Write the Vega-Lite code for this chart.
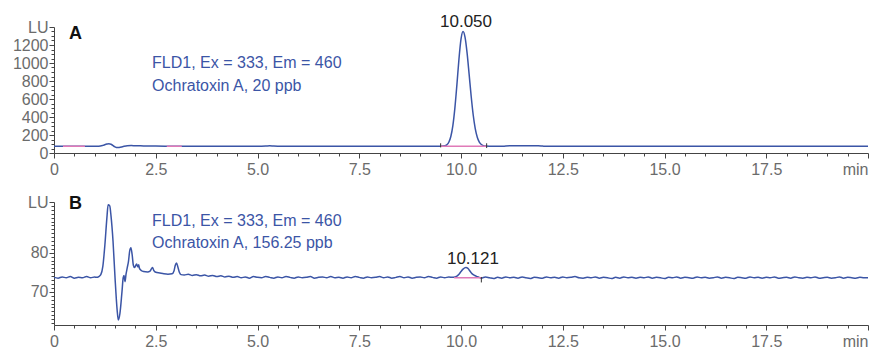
{
  "$schema": "https://vega.github.io/schema/vega-lite/v6.json",
  "padding": {"left": 12, "top": 12, "right": 0, "bottom": 0},
  "spacing": 17,
  "config": {
    "view": {"stroke": null},
    "axis": {
      "grid": false,
      "title": null,
      "domainColor": "#444444",
      "tickColor": "#444444",
      "domainWidth": 1,
      "tickWidth": 1,
      "labelColor": "#6b6b6b",
      "labelFont": "Liberation Sans",
      "labelFontSize": 16,
      "labelFlush": false,
      "labelOverlap": false,
      "labelBound": false
    }
  },
  "datasets": {
    "traceA": [
      {"t": 0, "v": 75}, {"t": 0.2, "v": 75}, {"t": 0.5, "v": 74}, {"t": 0.8, "v": 75}, {"t": 1.0, "v": 75},
      {"t": 1.1, "v": 76}, {"t": 1.2, "v": 85}, {"t": 1.3, "v": 100}, {"t": 1.35, "v": 104}, {"t": 1.4, "v": 98},
      {"t": 1.5, "v": 68}, {"t": 1.55, "v": 60}, {"t": 1.6, "v": 62}, {"t": 1.7, "v": 72}, {"t": 1.8, "v": 80},
      {"t": 1.9, "v": 82}, {"t": 2.0, "v": 80}, {"t": 2.2, "v": 79}, {"t": 2.5, "v": 77}, {"t": 3.0, "v": 76},
      {"t": 4.0, "v": 75}, {"t": 5.0, "v": 75}, {"t": 5.2, "v": 77}, {"t": 5.3, "v": 80}, {"t": 5.4, "v": 77},
      {"t": 5.6, "v": 75}, {"t": 6.0, "v": 75}, {"t": 7.0, "v": 75}, {"t": 8.0, "v": 75}, {"t": 9.0, "v": 75},
      {"t": 9.5, "v": 75}, {"t": 9.6, "v": 80}, {"t": 9.65, "v": 91}, {"t": 9.7, "v": 119}, {"t": 9.75, "v": 183},
      {"t": 9.8, "v": 304}, {"t": 9.85, "v": 501}, {"t": 9.9, "v": 763}, {"t": 9.95, "v": 1044}, {"t": 10.0, "v": 1265},
      {"t": 10.05, "v": 1350}, {"t": 10.1, "v": 1285}, {"t": 10.15, "v": 1110}, {"t": 10.2, "v": 873}, {"t": 10.25, "v": 630},
      {"t": 10.3, "v": 422}, {"t": 10.35, "v": 271}, {"t": 10.4, "v": 175}, {"t": 10.45, "v": 121}, {"t": 10.5, "v": 94},
      {"t": 10.55, "v": 82}, {"t": 10.6, "v": 77}, {"t": 10.7, "v": 75}, {"t": 11.0, "v": 74}, {"t": 11.1, "v": 78},
      {"t": 11.2, "v": 80}, {"t": 11.5, "v": 80}, {"t": 11.9, "v": 80}, {"t": 12.0, "v": 77}, {"t": 12.1, "v": 74},
      {"t": 13, "v": 74}, {"t": 14, "v": 74}, {"t": 15, "v": 74}, {"t": 16, "v": 74}, {"t": 17, "v": 74},
      {"t": 18, "v": 74}, {"t": 19, "v": 74}, {"t": 20, "v": 74}
    ],
    "traceB": [
      {"t": 0.0, "v": 73.7}, {"t": 0.1, "v": 73.5}, {"t": 0.2, "v": 73.8}, {"t": 0.3, "v": 73.6}, {"t": 0.4, "v": 73.9},
      {"t": 0.5, "v": 73.5}, {"t": 0.6, "v": 73.7}, {"t": 0.7, "v": 73.6}, {"t": 0.8, "v": 73.9}, {"t": 0.9, "v": 73.6},
      {"t": 1.0, "v": 73.8}, {"t": 1.05, "v": 73.7}, {"t": 1.1, "v": 73.9}, {"t": 1.15, "v": 74.4}, {"t": 1.2, "v": 76.5},
      {"t": 1.25, "v": 82}, {"t": 1.3, "v": 89}, {"t": 1.33, "v": 92.3}, {"t": 1.37, "v": 92.0}, {"t": 1.4, "v": 89.5},
      {"t": 1.45, "v": 83}, {"t": 1.5, "v": 73.5}, {"t": 1.55, "v": 65.5}, {"t": 1.58, "v": 62.8}, {"t": 1.62, "v": 64.5},
      {"t": 1.67, "v": 70}, {"t": 1.7, "v": 73.6}, {"t": 1.72, "v": 74.2}, {"t": 1.745, "v": 72.6}, {"t": 1.77, "v": 74.5},
      {"t": 1.8, "v": 76.2}, {"t": 1.83, "v": 77.8}, {"t": 1.86, "v": 80.5}, {"t": 1.89, "v": 81.3}, {"t": 1.92, "v": 79.5},
      {"t": 1.95, "v": 76.8}, {"t": 1.98, "v": 76.2}, {"t": 2.0, "v": 76.6}, {"t": 2.03, "v": 77.1}, {"t": 2.06, "v": 76.4},
      {"t": 2.08, "v": 76.9}, {"t": 2.1, "v": 76.0}, {"t": 2.15, "v": 75.4}, {"t": 2.2, "v": 75.2}, {"t": 2.3, "v": 75.1},
      {"t": 2.36, "v": 75.3}, {"t": 2.4, "v": 76.0}, {"t": 2.42, "v": 76.2}, {"t": 2.45, "v": 75.5}, {"t": 2.5, "v": 75.0},
      {"t": 2.6, "v": 74.8}, {"t": 2.7, "v": 74.6}, {"t": 2.8, "v": 74.5}, {"t": 2.9, "v": 74.6}, {"t": 2.95, "v": 75.4},
      {"t": 2.98, "v": 76.8}, {"t": 3.01, "v": 77.4}, {"t": 3.04, "v": 76.5}, {"t": 3.08, "v": 75.0}, {"t": 3.12, "v": 74.4},
      {"t": 3.2, "v": 74.3}, {"t": 3.3, "v": 74.5}, {"t": 3.4, "v": 74.2}, {"t": 3.5, "v": 74.4}, {"t": 3.6, "v": 74.1},
      {"t": 3.7, "v": 74.3}, {"t": 3.8, "v": 74.0}, {"t": 3.9, "v": 74.2}, {"t": 4.0, "v": 73.9}, {"t": 4.1, "v": 74.1},
      {"t": 4.2, "v": 73.8}, {"t": 4.3, "v": 74.0}, {"t": 4.4, "v": 73.7}, {"t": 4.5, "v": 73.9}, {"t": 4.6, "v": 73.6},
      {"t": 4.7, "v": 73.8}, {"t": 4.8, "v": 73.5}, {"t": 4.9, "v": 73.9}, {"t": 5.0, "v": 73.7}, {"t": 5.1, "v": 73.6},
      {"t": 5.2, "v": 73.9}, {"t": 5.3, "v": 73.7}, {"t": 5.4, "v": 73.5}, {"t": 5.5, "v": 73.8}, {"t": 5.6, "v": 73.6},
      {"t": 5.7, "v": 73.9}, {"t": 5.8, "v": 73.7}, {"t": 5.9, "v": 73.5}, {"t": 6.0, "v": 73.8}, {"t": 6.1, "v": 73.6},
      {"t": 6.2, "v": 73.7}, {"t": 6.3, "v": 73.9}, {"t": 6.4, "v": 73.5}, {"t": 6.5, "v": 73.7}, {"t": 6.6, "v": 73.8},
      {"t": 6.7, "v": 73.6}, {"t": 6.8, "v": 73.9}, {"t": 6.9, "v": 73.6}, {"t": 7.0, "v": 73.7}, {"t": 7.1, "v": 73.5},
      {"t": 7.2, "v": 73.8}, {"t": 7.3, "v": 73.6}, {"t": 7.4, "v": 73.9}, {"t": 7.5, "v": 73.7}, {"t": 7.6, "v": 73.5},
      {"t": 7.7, "v": 73.8}, {"t": 7.8, "v": 73.6}, {"t": 7.9, "v": 73.7}, {"t": 8.0, "v": 73.9}, {"t": 8.1, "v": 73.6},
      {"t": 8.2, "v": 73.8}, {"t": 8.3, "v": 73.5}, {"t": 8.4, "v": 73.7}, {"t": 8.5, "v": 73.9}, {"t": 8.6, "v": 73.6},
      {"t": 8.7, "v": 73.8}, {"t": 8.8, "v": 73.5}, {"t": 8.9, "v": 73.7}, {"t": 9.0, "v": 73.8}, {"t": 9.1, "v": 73.6},
      {"t": 9.2, "v": 73.9}, {"t": 9.3, "v": 73.7}, {"t": 9.4, "v": 73.5}, {"t": 9.5, "v": 73.8}, {"t": 9.6, "v": 73.6},
      {"t": 9.7, "v": 73.8}, {"t": 9.8, "v": 73.7}, {"t": 9.85, "v": 73.8}, {"t": 9.9, "v": 74.0}, {"t": 9.95, "v": 74.5},
      {"t": 10.0, "v": 75.2}, {"t": 10.05, "v": 75.8}, {"t": 10.121, "v": 76.2}, {"t": 10.17, "v": 76.0}, {"t": 10.2, "v": 75.6},
      {"t": 10.25, "v": 74.9}, {"t": 10.3, "v": 74.4}, {"t": 10.35, "v": 74.1}, {"t": 10.4, "v": 73.9}, {"t": 10.45, "v": 73.7},
      {"t": 10.5, "v": 73.5}, {"t": 10.6, "v": 73.8}, {"t": 10.7, "v": 73.6}, {"t": 10.8, "v": 73.4}, {"t": 10.9, "v": 73.7},
      {"t": 11.0, "v": 73.5}, {"t": 11.1, "v": 73.8}, {"t": 11.2, "v": 73.6}, {"t": 11.3, "v": 73.7}, {"t": 11.4, "v": 73.5},
      {"t": 11.5, "v": 73.8}, {"t": 11.6, "v": 73.6}, {"t": 11.7, "v": 73.4}, {"t": 11.8, "v": 73.7}, {"t": 11.9, "v": 73.6},
      {"t": 12.0, "v": 73.5}, {"t": 12.1, "v": 73.8}, {"t": 12.2, "v": 73.6}, {"t": 12.3, "v": 73.7}, {"t": 12.4, "v": 73.5},
      {"t": 12.5, "v": 73.8}, {"t": 12.6, "v": 73.6}, {"t": 12.7, "v": 73.7}, {"t": 12.8, "v": 73.9}, {"t": 12.9, "v": 73.6},
      {"t": 13.0, "v": 73.5}, {"t": 13.1, "v": 73.7}, {"t": 13.2, "v": 73.6}, {"t": 13.3, "v": 73.8}, {"t": 13.4, "v": 73.5},
      {"t": 13.5, "v": 73.7}, {"t": 13.6, "v": 73.6}, {"t": 13.7, "v": 73.4}, {"t": 13.8, "v": 73.7}, {"t": 13.9, "v": 73.5},
      {"t": 14.0, "v": 73.8}, {"t": 14.1, "v": 73.6}, {"t": 14.2, "v": 73.7}, {"t": 14.3, "v": 73.5}, {"t": 14.4, "v": 73.7},
      {"t": 14.5, "v": 73.6}, {"t": 14.6, "v": 73.8}, {"t": 14.7, "v": 73.5}, {"t": 14.8, "v": 73.7}, {"t": 14.9, "v": 73.6},
      {"t": 15.0, "v": 73.4}, {"t": 15.1, "v": 73.7}, {"t": 15.2, "v": 73.6}, {"t": 15.3, "v": 73.8}, {"t": 15.4, "v": 73.5},
      {"t": 15.5, "v": 73.7}, {"t": 15.6, "v": 73.6}, {"t": 15.7, "v": 73.5}, {"t": 15.8, "v": 73.8}, {"t": 15.9, "v": 73.6},
      {"t": 16.0, "v": 73.7}, {"t": 16.1, "v": 73.5}, {"t": 16.2, "v": 73.6}, {"t": 16.3, "v": 73.8}, {"t": 16.4, "v": 73.5},
      {"t": 16.5, "v": 73.7}, {"t": 16.6, "v": 73.6}, {"t": 16.7, "v": 73.4}, {"t": 16.8, "v": 73.7}, {"t": 16.9, "v": 73.6},
      {"t": 17.0, "v": 73.5}, {"t": 17.1, "v": 73.8}, {"t": 17.2, "v": 73.6}, {"t": 17.3, "v": 73.7}, {"t": 17.4, "v": 73.5},
      {"t": 17.5, "v": 73.7}, {"t": 17.6, "v": 73.6}, {"t": 17.7, "v": 73.8}, {"t": 17.8, "v": 73.5}, {"t": 17.9, "v": 73.6},
      {"t": 18.0, "v": 73.7}, {"t": 18.1, "v": 73.5}, {"t": 18.2, "v": 73.8}, {"t": 18.3, "v": 73.6}, {"t": 18.4, "v": 73.5},
      {"t": 18.5, "v": 73.7}, {"t": 18.6, "v": 73.6}, {"t": 18.7, "v": 73.8}, {"t": 18.8, "v": 73.5}, {"t": 18.9, "v": 73.6},
      {"t": 19.0, "v": 73.7}, {"t": 19.1, "v": 73.5}, {"t": 19.2, "v": 73.6}, {"t": 19.3, "v": 73.8}, {"t": 19.4, "v": 73.5},
      {"t": 19.5, "v": 73.7}, {"t": 19.6, "v": 73.6}, {"t": 19.7, "v": 73.5}, {"t": 19.8, "v": 73.7}, {"t": 19.9, "v": 73.6},
      {"t": 20.0, "v": 73.6}
    ],
    "baseA": [
      {"t0": 0.22, "t1": 0.76, "v": 75},
      {"t0": 2.77, "t1": 3.14, "v": 75},
      {"t0": 9.5, "t1": 10.63, "v": 75}
    ],
    "baseB": [
      {"t0": 9.83, "t1": 10.5, "v": 73.6}
    ],
    "dropA": [
      {"t": 9.5, "v0": 62, "v1": 108},
      {"t": 10.63, "v0": 55, "v1": 108}
    ],
    "dropB": [
      {"t": 10.5, "v0": 72.4, "v1": 73.8}
    ],
    "letterA": [{"t": 0.37, "v": 1322, "label": "A"}],
    "letterB": [{"t": 0.37, "v": 92.4, "label": "B"}],
    "notesA": [
      {"t": 2.41, "v": 1005, "label": "FLD1, Ex = 333, Em = 460"},
      {"t": 2.41, "v": 750, "label": "Ochratoxin A, 20 ppb"}
    ],
    "notesB": [
      {"t": 2.41, "v": 88.1, "label": "FLD1, Ex = 333, Em = 460"},
      {"t": 2.41, "v": 82.4, "label": "Ochratoxin A, 156.25 ppb"}
    ],
    "peakA": [{"t": 10.05, "v": 1350, "label": "10.050"}],
    "peakB": [{"t": 10.121, "v": 76.2, "label": "10.121"}]
  },
  "vconcat": [
    {
      "width": 814,
      "height": 126,
      "resolve": {"axis": {"x": "independent", "y": "independent"}},
      "layer": [
        {
          "data": {"name": "traceA"},
          "mark": {"type": "line", "color": "#3b55a6", "strokeWidth": 1.5, "interpolate": "monotone"},
          "encoding": {
            "x": {
              "field": "t", "type": "quantitative",
              "scale": {"domain": [0, 20], "nice": false, "zero": false},
              "axis": {
                "orient": "bottom",
                "values": [0, 2.5, 5, 7.5, 10, 12.5, 15, 17.5, 20],
                "labelExpr": "datum.value == 20 ? 'min' : (datum.value == 0 ? '0' : format(datum.value, '.1f'))",
                "labelAlign": {"condition": {"test": "datum.value == 20", "value": "right"}, "value": "center"},
                "tickSize": 5,
                "labelOverlap": false,
                "labelPadding": 3
              }
            },
            "y": {
              "field": "v", "type": "quantitative",
              "scale": {"domain": [0, 1400], "nice": false},
              "axis": {
                "orient": "left",
                "values": [0, 200, 400, 600, 800, 1000, 1200, 1400],
                "format": "d",
                "labelExpr": "datum.value == 1400 ? 'LU' : datum.label",
                "tickSize": 5,
                "labelOverlap": false,
                "labelPadding": 1,
                "minExtent": 42,
                "maxExtent": 42
              }
            }
          }
        },
        {
          "data": {"name": "baseA"},
          "mark": {"type": "rule", "color": "#e07ab8", "strokeWidth": 1.5},
          "encoding": {
            "x": {
              "field": "t0", "type": "quantitative",
              "axis": {
                "orient": "bottom",
                "values": [0.5, 1, 1.5, 2, 3, 3.5, 4, 4.5, 5.5, 6, 6.5, 7, 8, 8.5, 9, 9.5, 10.5, 11, 11.5, 12, 13, 13.5, 14, 14.5, 15.5, 16, 16.5, 17, 18, 18.5, 19, 19.5],
                "labels": false,
                "domain": false,
                "tickSize": 3
              }
            },
            "x2": {"field": "t1"},
            "y": {
              "field": "v", "type": "quantitative",
              "axis": {
                "orient": "left",
                "values": [50, 100, 150, 250, 300, 350, 450, 500, 550, 650, 700, 750, 850, 900, 950, 1050, 1100, 1150, 1250, 1300, 1350],
                "labels": false,
                "domain": false,
                "tickSize": 3,
                "minExtent": 42,
                "maxExtent": 42
              }
            }
          }
        },
        {
          "data": {"name": "dropA"},
          "mark": {"type": "rule", "color": "#333333", "strokeWidth": 1},
          "encoding": {
            "x": {"field": "t", "type": "quantitative", "axis": null},
            "y": {"field": "v0", "type": "quantitative", "axis": null},
            "y2": {"field": "v1"}
          }
        },
        {
          "data": {"name": "letterA"},
          "mark": {"type": "text", "font": "Liberation Sans", "fontSize": 18, "fontWeight": "bold", "color": "#111111", "align": "left", "baseline": "middle"},
          "encoding": {
            "x": {"field": "t", "type": "quantitative", "axis": null},
            "y": {"field": "v", "type": "quantitative", "axis": null},
            "text": {"field": "label"}
          }
        },
        {
          "data": {"name": "notesA"},
          "mark": {"type": "text", "font": "Liberation Sans", "fontSize": 16, "color": "#3b55a6", "align": "left", "baseline": "middle"},
          "encoding": {
            "x": {"field": "t", "type": "quantitative", "axis": null},
            "y": {"field": "v", "type": "quantitative", "axis": null},
            "text": {"field": "label"}
          }
        },
        {
          "data": {"name": "peakA"},
          "mark": {"type": "text", "font": "Liberation Sans", "fontSize": 17, "color": "#222222", "align": "center", "baseline": "alphabetic", "dx": 3, "dy": -5},
          "encoding": {
            "x": {"field": "t", "type": "quantitative", "axis": null},
            "y": {"field": "v", "type": "quantitative", "axis": null},
            "text": {"field": "label"}
          }
        }
      ]
    },
    {
      "width": 814,
      "height": 123,
      "resolve": {"axis": {"x": "independent", "y": "independent"}},
      "layer": [
        {
          "data": {"name": "traceB"},
          "mark": {"type": "line", "color": "#3b55a6", "strokeWidth": 1.5, "interpolate": "monotone"},
          "encoding": {
            "x": {
              "field": "t", "type": "quantitative",
              "scale": {"domain": [0, 20], "nice": false, "zero": false},
              "axis": {
                "orient": "bottom",
                "values": [0, 2.5, 5, 7.5, 10, 12.5, 15, 17.5, 20],
                "labelExpr": "datum.value == 20 ? 'min' : (datum.value == 0 ? '0' : format(datum.value, '.1f'))",
                "labelAlign": {"condition": {"test": "datum.value == 20", "value": "right"}, "value": "center"},
                "tickSize": 5,
                "labelOverlap": false,
                "labelPadding": 3
              }
            },
            "y": {
              "field": "v", "type": "quantitative",
              "scale": {"domain": [61.5, 93], "nice": false, "zero": false},
              "axis": {
                "orient": "left",
                "values": [70, 80, 93],
                "format": "d",
                "labelExpr": "datum.value == 93 ? 'LU' : datum.label",
                "tickSize": 5,
                "labelOverlap": false,
                "labelPadding": 1,
                "minExtent": 42,
                "maxExtent": 42
              }
            }
          }
        },
        {
          "data": {"name": "baseB"},
          "mark": {"type": "rule", "color": "#e07ab8", "strokeWidth": 1.5},
          "encoding": {
            "x": {
              "field": "t0", "type": "quantitative",
              "axis": {
                "orient": "bottom",
                "values": [0.5, 1, 1.5, 2, 3, 3.5, 4, 4.5, 5.5, 6, 6.5, 7, 8, 8.5, 9, 9.5, 10.5, 11, 11.5, 12, 13, 13.5, 14, 14.5, 15.5, 16, 16.5, 17, 18, 18.5, 19, 19.5],
                "labels": false,
                "domain": false,
                "tickSize": 3
              }
            },
            "x2": {"field": "t1"},
            "y": {
              "field": "v", "type": "quantitative",
              "axis": {
                "orient": "left",
                "values": [62, 63, 64, 65, 66, 67, 68, 69, 71, 72, 73, 74, 75, 76, 77, 78, 79, 81, 82, 83, 84, 85, 86, 87, 88, 89, 90, 91, 92],
                "labels": false,
                "domain": false,
                "tickSize": 3,
                "minExtent": 42,
                "maxExtent": 42
              }
            }
          }
        },
        {
          "data": {"name": "dropB"},
          "mark": {"type": "rule", "color": "#333333", "strokeWidth": 1},
          "encoding": {
            "x": {"field": "t", "type": "quantitative", "axis": null},
            "y": {"field": "v0", "type": "quantitative", "axis": null},
            "y2": {"field": "v1"}
          }
        },
        {
          "data": {"name": "letterB"},
          "mark": {"type": "text", "font": "Liberation Sans", "fontSize": 18, "fontWeight": "bold", "color": "#111111", "align": "left", "baseline": "middle"},
          "encoding": {
            "x": {"field": "t", "type": "quantitative", "axis": null},
            "y": {"field": "v", "type": "quantitative", "axis": null},
            "text": {"field": "label"}
          }
        },
        {
          "data": {"name": "notesB"},
          "mark": {"type": "text", "font": "Liberation Sans", "fontSize": 16, "color": "#3b55a6", "align": "left", "baseline": "middle"},
          "encoding": {
            "x": {"field": "t", "type": "quantitative", "axis": null},
            "y": {"field": "v", "type": "quantitative", "axis": null},
            "text": {"field": "label"}
          }
        },
        {
          "data": {"name": "peakB"},
          "mark": {"type": "text", "font": "Liberation Sans", "fontSize": 17, "color": "#222222", "align": "center", "baseline": "alphabetic", "dx": 7, "dy": -4},
          "encoding": {
            "x": {"field": "t", "type": "quantitative", "axis": null},
            "y": {"field": "v", "type": "quantitative", "axis": null},
            "text": {"field": "label"}
          }
        }
      ]
    }
  ]
}
